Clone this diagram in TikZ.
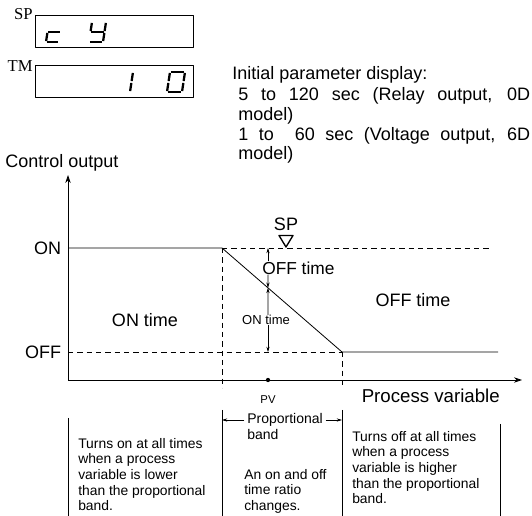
\documentclass[tikz,border=0pt]{standalone}
\usepackage{fontspec}
\setmainfont{Liberation Sans}
\newfontfamily\tagfont{Liberation Serif}
\usetikzlibrary{arrows.meta,positioning,calc}

\tikzset{
  lbl/.style={font=\fontsize{13.5}{16}\selectfont,inner sep=0pt},
  smalllbl/.style={font=\fontsize{9.75}{11}\selectfont,inner sep=0pt},
  tinylbl/.style={font=\fontsize{8.5}{10}\selectfont,inner sep=0pt},
  note/.style={font=\fontsize{10.4}{11.7}\selectfont,inner sep=0pt,align=left,anchor=north west},
  taglbl/.style={font=\tagfont\fontsize{12.5}{14}\selectfont,inner sep=0pt},
  lcdbox/.style={draw,line width=0.6pt,minimum width=118.5pt,minimum height=24pt,anchor=north west,inner sep=0pt},
  segline/.style={line width=1.7pt,shorten <=0.7pt,shorten >=0.7pt},
  axis/.style={line width=0.6pt,-{Stealth[length=6pt,width=4pt]}},
  guide/.style={line width=0.6pt,dash pattern=on 4pt off 3pt},
  dimarr/.style={line width=0.45pt,-{Stealth[length=4pt,width=2.4pt]}},
}

\begin{document}
\begin{tikzpicture}[x=0.75pt,y=-0.75pt,line join=round]
  \useasboundingbox (0,0) rectangle (532,516);

  % display panels
  \node[lcdbox] (spbox) at (35,15) {};
  \node[lcdbox] (tmbox) at (35,65) {};
  \node[taglbl,anchor=east] at ([xshift=-1.5pt,yshift=1pt]spbox.north west) {SP};
  \node[taglbl,anchor=east] at ([xshift=-1.5pt,yshift=-1pt]tmbox.north west) {TM};
  \foreach \a/\b in {{47.5,32}/{60.5,32},{47.5,32}/{46,42},{46,42}/{59,42},
                     {92,22}/{90.5,32},{106,22}/{104.5,32},{90.5,32}/{104.5,32},
                     {104.5,32}/{103,42},{89,42}/{103,42}}
    \draw[segline] (\a) -- (\b);
  \foreach \a/\b in {{133,72}/{131.5,82},{131.5,82}/{130,92},
                     {170,72}/{185,72},{185,72}/{183.5,82},{183.5,82}/{182,92},
                     {167,92}/{182,92},{168.5,82}/{167,92},{170,72}/{168.5,82}}
    \draw[segline] (\a) -- (\b);

  \node[lbl,anchor=west] (init) at (232,75) {Initial parameter display:};
  \node[lbl,anchor=west] (relay) at (238,96) {\makebox[219pt][s]{5 to 120 sec (Relay output, 0D}};
  \node[lbl,anchor=west] (relaym) at (238,116) {model)};
  \node[lbl,anchor=west] (volt) at (238,136) {\makebox[219pt][s]{1 to\ \ 60 sec (Voltage output, 6D}};
  \node[lbl,anchor=west] (voltm) at (238,155) {model)};

  % axes
  \coordinate (O) at (68,380);
  \coordinate (yend) at (68,175);
  \coordinate (xend) at (522,380);
  \draw[axis] (O) -- (yend);
  \draw[axis] (O) -- (xend);
  \node[lbl,anchor=west] (yname) at (5,163) {Control output};
  \node[lbl,anchor=east,font=\fontsize{14}{16}\selectfont] (xname) at (500,396) {Process variable};

  % output curve
  \coordinate (onA) at (68,248);
  \coordinate (offA) at (68,352);
  \coordinate (kneeA) at (222,248);
  \coordinate (kneeB) at (342,352);
  \coordinate (onB) at (490,248);
  \coordinate (offB) at (498,352);
  \coordinate (dashend) at (0,388);
  \draw[line width=0.6pt] (onA) -- (kneeA) -- (kneeB) -- (offB);
  \draw[guide] (kneeA) -- (onB);
  \draw[guide] (offA) -- (kneeB);
  \draw[guide] (kneeA) -- (kneeA |- dashend);
  \draw[guide] (kneeB) -- (kneeB |- dashend);
  \node[lbl,anchor=east] at ([xshift=-5pt]onA) {ON};
  \node[lbl,anchor=east] at ([xshift=-5pt]offA) {OFF};

  % set point and process value
  \coordinate (sp) at (286,247);
  \draw[line width=1pt] (sp) -- ++(-7,-11.5) -- ++(14,0) -- cycle;
  \node[lbl] at (286,224) {SP};
  \coordinate (pv) at (268,380);
  \fill (pv) circle (1.6pt);
  \node[tinylbl] at (268,400) {PV};

  % time ratio at PV
  \coordinate (cut) at ($(kneeA)!0.383!(kneeB)$);
  \node[lbl,anchor=west,font=\fontsize{13}{15}\selectfont] (offt) at (262,268) {OFF time};
  \node[smalllbl] (ont) at (266,320) {ON time};
  \draw[dimarr] (offt.north -| pv) -- (pv |- onA);
  \draw[dimarr] (offt.south -| pv) -- (cut);
  \draw[dimarr] (ont.north -| pv) -- (cut);
  \draw[dimarr] (ont.south -| pv) -- (pv |- offA);

  \node[lbl] at (145,320) {ON time};
  \node[lbl] at (413,300) {OFF time};

  % regions below the axis
  \coordinate (bandL) at (222,410);
  \coordinate (bandR) at (342,410);
  \draw[line width=0.6pt] (68,418) -- (68,516);
  \draw[line width=0.6pt] (bandL) -- (bandL |- 0,516);
  \draw[line width=0.6pt] (bandR) -- (bandR |- 0,516);
  \draw[line width=0.6pt] (500,424) -- (500,516);
  \node[smalllbl,font=\fontsize{10.5}{12}\selectfont] (prop) at (285,420) {Proportional};
  \node[smalllbl,font=\fontsize{10.5}{12}\selectfont,below=1.5pt of prop.south west,anchor=north west] (band) {band};
  \draw[dimarr] ([xshift=-2pt]prop.west) -- (prop.west -| bandL);
  \draw[dimarr] ([xshift=2pt]prop.east) -- (prop.east -| bandR);

  \node[note] (lower) at (78,438) {Turns on at all times\\when a process\\variable is lower\\than the proportional\\band.};
  \node[note] (ratio) at (244,469) {An on and off\\time ratio\\changes.};
  \node[note] (higher) at (352,431) {Turns off at all times\\when a process\\variable is higher\\than the proportional\\band.};
\end{tikzpicture}
\end{document}
